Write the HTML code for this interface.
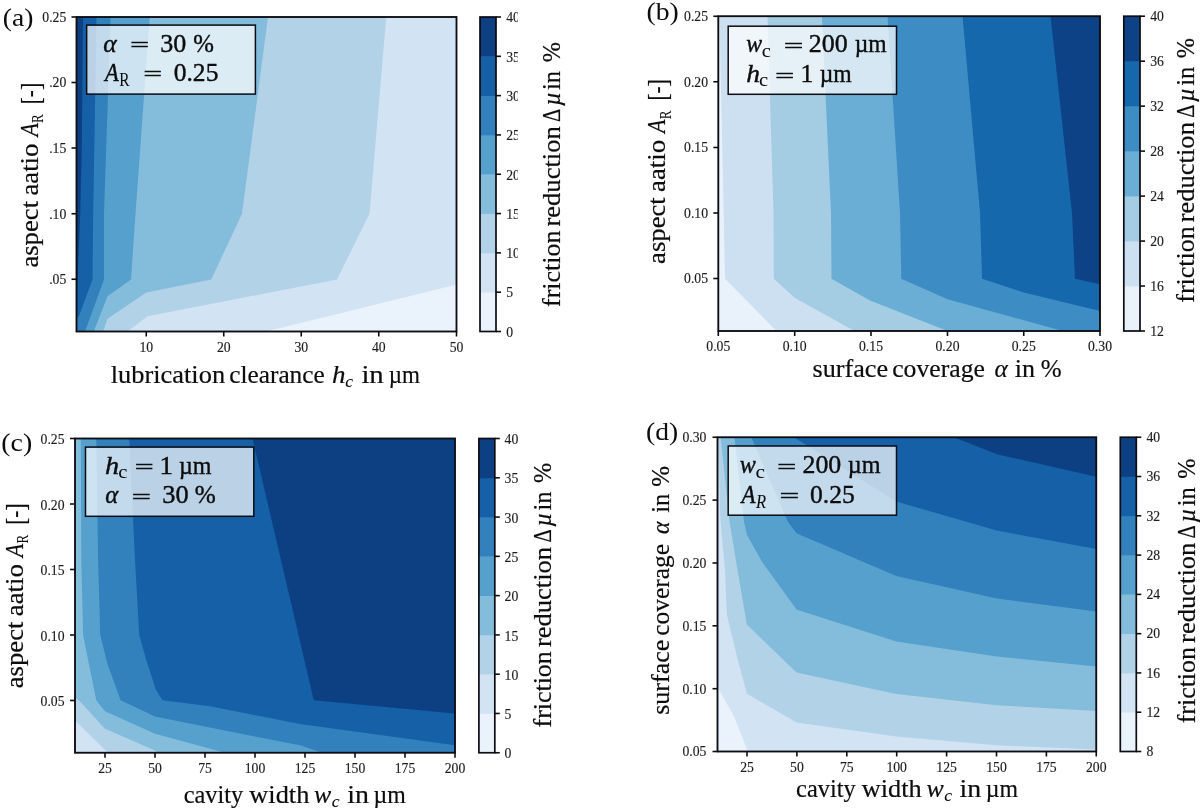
<!DOCTYPE html>
<html lang="en">
<head>
<meta charset="utf-8">
<title>Friction reduction contour maps</title>
<style>
html,body{margin:0;padding:0;background:#ffffff;}
body{width:1200px;height:812px;overflow:hidden;}
svg{display:block;}
text{font-family:'Liberation Serif',serif;fill:#0c0c0c;}
.tk{font-size:13.7px;fill:#1c1c1c;stroke:#1c1c1c;stroke-width:0.15px;}
</style>
</head>
<body>
<svg width="1200" height="812" viewBox="0 0 1200 812">
<defs><filter id="soft" x="0" y="0" width="1200" height="812" filterUnits="userSpaceOnUse"><feGaussianBlur stdDeviation="0.55"/></filter></defs>
<g filter="url(#soft)">
<rect x="-10" y="-10" width="1220" height="832" fill="#ffffff"/>
<g id="panel-a">
<clipPath id="clip-a"><rect x="76.5" y="17" width="380.0" height="314.5"/></clipPath>
<g clip-path="url(#clip-a)">
<rect x="76.5" y="17" width="380.0" height="314.5" fill="#eaf3fb"/>
<polygon points="71.50,12.00 461.50,12.00 461.50,283.50 266.00,331.50 266.00,336.50 71.50,336.50" fill="#d2e3f3"/>
<polygon points="71.50,12.00 386.25,12.00 386.25,17.00 369.50,213.75 337.00,279.40 147.50,316.25 127.50,331.50 127.50,336.50 71.50,336.50" fill="#b2d2e8"/>
<polygon points="71.50,12.00 268.00,12.00 268.00,17.00 242.00,213.75 211.25,279.40 146.25,292.50 107.50,318.75 103.00,331.50 103.00,336.50 71.50,336.50" fill="#84bcdb"/>
<polygon points="71.50,12.00 149.75,12.00 149.75,17.00 135.50,213.75 131.00,279.40 107.50,296.25 93.75,331.50 93.75,336.50 71.50,336.50" fill="#56a0ce"/>
<polygon points="71.50,12.00 110.60,12.00 110.60,17.00 104.00,213.75 104.00,279.40 85.00,331.50 85.00,336.50 71.50,336.50" fill="#3181bd"/>
<polygon points="71.50,12.00 96.50,12.00 96.50,17.00 93.20,213.75 92.50,279.40 79.40,315.00 76.50,319.00 71.50,319.00" fill="#1460a8"/>
<polygon points="71.50,12.00 83.10,12.00 83.10,17.00 81.80,150.00 80.20,213.75 77.60,279.40 76.50,290.00 71.50,290.00" fill="#084082"/>
</g>
<rect x="86.65" y="25.1" width="168.75" height="69.00" fill="#ffffff" fill-opacity="0.71" stroke="#0a0a12" stroke-width="1.5"/><text x="103.34" y="51.60" font-size="26" textLength="13.44" lengthAdjust="spacingAndGlyphs" font-style="italic" stroke="#0c0c0c" stroke-width="0.4">α</text><text x="130.25" y="51.40" font-size="18.5" textLength="18.66" lengthAdjust="spacingAndGlyphs" stroke="#0c0c0c" stroke-width="0.55">=</text><text x="160.25" y="51.60" font-size="26" textLength="26.04" lengthAdjust="spacingAndGlyphs" stroke="#0c0c0c" stroke-width="0.4">30</text><text x="193.15" y="51.60" font-size="26" textLength="20.70" lengthAdjust="spacingAndGlyphs" stroke="#0c0c0c" stroke-width="0.4">%</text><text x="104.98" y="80.50" font-size="26" textLength="13.74" lengthAdjust="spacingAndGlyphs" font-style="italic" stroke="#0c0c0c" stroke-width="0.4">A</text><text x="119.16" y="86.00" font-size="18.5" textLength="10.27" lengthAdjust="spacingAndGlyphs" stroke="#0c0c0c" stroke-width="0.05">R</text><text x="143.57" y="80.30" font-size="18.5" textLength="18.42" lengthAdjust="spacingAndGlyphs" stroke="#0c0c0c" stroke-width="0.55">=</text><text x="173.73" y="80.50" font-size="26" textLength="44.67" lengthAdjust="spacingAndGlyphs" stroke="#0c0c0c" stroke-width="0.4">0.25</text>
<rect x="76.5" y="17" width="380.0" height="314.5" fill="none" stroke="#0a0a12" stroke-width="1.85"/>
<line x1="146.25" y1="331.5" x2="146.25" y2="336.5" stroke="#111" stroke-width="1.6"/>
<text x="146.25" y="352.10" class="tk" text-anchor="middle">10</text>
<line x1="223.75" y1="331.5" x2="223.75" y2="336.5" stroke="#111" stroke-width="1.6"/>
<text x="223.75" y="352.10" class="tk" text-anchor="middle">20</text>
<line x1="301.25" y1="331.5" x2="301.25" y2="336.5" stroke="#111" stroke-width="1.6"/>
<text x="301.25" y="352.10" class="tk" text-anchor="middle">30</text>
<line x1="378.75" y1="331.5" x2="378.75" y2="336.5" stroke="#111" stroke-width="1.6"/>
<text x="378.75" y="352.10" class="tk" text-anchor="middle">40</text>
<line x1="456.5" y1="331.5" x2="456.5" y2="336.5" stroke="#111" stroke-width="1.6"/>
<text x="456.5" y="352.10" class="tk" text-anchor="middle">50</text>
<line x1="71.5" y1="17" x2="76.5" y2="17" stroke="#111" stroke-width="1.6"/>
<text x="66.30" y="21.90" class="tk" text-anchor="end">0.25</text>
<line x1="71.5" y1="82.5" x2="76.5" y2="82.5" stroke="#111" stroke-width="1.6"/>
<text x="66.30" y="87.40" class="tk" text-anchor="end">.20</text>
<line x1="71.5" y1="148" x2="76.5" y2="148" stroke="#111" stroke-width="1.6"/>
<text x="66.30" y="152.90" class="tk" text-anchor="end">.15</text>
<line x1="71.5" y1="213.75" x2="76.5" y2="213.75" stroke="#111" stroke-width="1.6"/>
<text x="66.30" y="218.65" class="tk" text-anchor="end">.10</text>
<line x1="71.5" y1="279.25" x2="76.5" y2="279.25" stroke="#111" stroke-width="1.6"/>
<text x="66.30" y="284.15" class="tk" text-anchor="end">.05</text>
<rect x="480" y="292.19" width="16" height="39.71" fill="#eaf3fb"/>
<rect x="480" y="252.88" width="16" height="39.71" fill="#d2e3f3"/>
<rect x="480" y="213.56" width="16" height="39.71" fill="#b2d2e8"/>
<rect x="480" y="174.25" width="16" height="39.71" fill="#84bcdb"/>
<rect x="480" y="134.94" width="16" height="39.71" fill="#56a0ce"/>
<rect x="480" y="95.62" width="16" height="39.71" fill="#3181bd"/>
<rect x="480" y="56.31" width="16" height="39.71" fill="#1460a8"/>
<rect x="480" y="17.00" width="16" height="39.71" fill="#084082"/>
<rect x="480" y="17" width="16" height="314.5" fill="none" stroke="#0a0a12" stroke-width="1.7"/>
<line x1="496" y1="331.50" x2="501" y2="331.50" stroke="#111" stroke-width="1.6"/>
<text x="506.20" y="336.80" class="tk">0</text>
<line x1="496" y1="292.19" x2="501" y2="292.19" stroke="#111" stroke-width="1.6"/>
<text x="506.20" y="297.49" class="tk">5</text>
<line x1="496" y1="252.88" x2="501" y2="252.88" stroke="#111" stroke-width="1.6"/>
<text x="506.20" y="258.18" class="tk">10</text>
<line x1="496" y1="213.56" x2="501" y2="213.56" stroke="#111" stroke-width="1.6"/>
<text x="506.20" y="218.86" class="tk">15</text>
<line x1="496" y1="174.25" x2="501" y2="174.25" stroke="#111" stroke-width="1.6"/>
<text x="506.20" y="179.55" class="tk">20</text>
<line x1="496" y1="134.94" x2="501" y2="134.94" stroke="#111" stroke-width="1.6"/>
<text x="506.20" y="140.24" class="tk">25</text>
<line x1="496" y1="95.62" x2="501" y2="95.62" stroke="#111" stroke-width="1.6"/>
<text x="506.20" y="100.92" class="tk">30</text>
<line x1="496" y1="56.31" x2="501" y2="56.31" stroke="#111" stroke-width="1.6"/>
<text x="506.20" y="61.61" class="tk">35</text>
<line x1="496" y1="17.00" x2="501" y2="17.00" stroke="#111" stroke-width="1.6"/>
<text x="506.20" y="22.30" class="tk">40</text>
</g>
<rect x="517.8" y="5" width="14" height="340" fill="#ffffff"/>
<g id="panel-b">
<clipPath id="clip-b"><rect x="718.3" y="16.2" width="381.70000000000005" height="314.8"/></clipPath>
<g clip-path="url(#clip-b)">
<rect x="718.3" y="16.2" width="381.70000000000005" height="314.8" fill="#e9f2fa"/>
<polygon points="719.50,11.20 1105.00,11.20 1105.00,336.00 776.50,336.00 776.50,331.00 725.00,278.75 719.50,16.20" fill="#cde0f1"/>
<polygon points="767.50,11.20 1105.00,11.20 1105.00,336.00 854.50,336.00 854.50,331.00 795.00,298.00 773.75,278.75 773.50,213.00 767.50,16.20" fill="#a4cce3"/>
<polygon points="821.90,11.20 1105.00,11.20 1105.00,336.00 947.50,336.00 947.50,331.00 870.00,300.50 831.50,278.75 831.00,213.00 821.90,16.20" fill="#6aaed6"/>
<polygon points="887.50,11.20 1105.00,11.20 1105.00,336.00 1062.50,336.00 1062.50,331.00 947.50,299.25 901.25,278.75 900.00,213.00 887.50,16.20" fill="#3d8dc4"/>
<polygon points="962.50,11.20 1105.00,11.20 1105.00,311.00 1100.00,311.00 1023.75,292.50 982.00,278.75 980.00,213.00 962.50,16.20" fill="#1967ad"/>
<polygon points="1050.50,11.20 1105.00,11.20 1105.00,284.25 1100.00,284.25 1075.00,278.75 1072.00,213.00 1050.50,16.20" fill="#084387"/>
</g>
<rect x="728.2" y="26.2" width="168.30" height="68.10" fill="#ffffff" fill-opacity="0.71" stroke="#0a0a12" stroke-width="1.5"/><text x="746.33" y="52.40" font-size="26" textLength="15.84" lengthAdjust="spacingAndGlyphs" font-style="italic" stroke="#0c0c0c" stroke-width="0.4">w</text><text x="761.82" y="56.70" font-size="18.5" textLength="9.11" lengthAdjust="spacingAndGlyphs" stroke="#0c0c0c" stroke-width="0.05">c</text><text x="784.01" y="52.20" font-size="18.5" textLength="19.15" lengthAdjust="spacingAndGlyphs" stroke="#0c0c0c" stroke-width="0.55">=</text><text x="808.76" y="52.40" font-size="26" textLength="38.93" lengthAdjust="spacingAndGlyphs" stroke="#0c0c0c" stroke-width="0.4">200</text><text x="854.64" y="52.40" font-size="26" textLength="31.93" lengthAdjust="spacingAndGlyphs" stroke="#0c0c0c" stroke-width="0.4">µm</text><text x="746.21" y="82.10" font-size="26" textLength="13.73" lengthAdjust="spacingAndGlyphs" font-style="italic" stroke="#0c0c0c" stroke-width="0.4">h</text><text x="759.02" y="86.40" font-size="18.5" textLength="9.11" lengthAdjust="spacingAndGlyphs" stroke="#0c0c0c" stroke-width="0.05">c</text><text x="775.34" y="81.90" font-size="18.5" textLength="18.79" lengthAdjust="spacingAndGlyphs" stroke="#0c0c0c" stroke-width="0.55">=</text><text x="800.55" y="82.10" font-size="26" textLength="12.78" lengthAdjust="spacingAndGlyphs" stroke="#0c0c0c" stroke-width="0.4">1</text><text x="819.74" y="82.10" font-size="26" textLength="32.03" lengthAdjust="spacingAndGlyphs" stroke="#0c0c0c" stroke-width="0.4">µm</text>
<rect x="718.3" y="16.2" width="381.70000000000005" height="314.8" fill="none" stroke="#0a0a12" stroke-width="1.85"/>
<line x1="718.3" y1="331" x2="718.3" y2="336" stroke="#111" stroke-width="1.6"/>
<text x="718.3" y="350.90" class="tk" text-anchor="middle">0.05</text>
<line x1="794.7" y1="331" x2="794.7" y2="336" stroke="#111" stroke-width="1.6"/>
<text x="794.7" y="350.90" class="tk" text-anchor="middle">0.10</text>
<line x1="871" y1="331" x2="871" y2="336" stroke="#111" stroke-width="1.6"/>
<text x="871" y="350.90" class="tk" text-anchor="middle">0.15</text>
<line x1="947.5" y1="331" x2="947.5" y2="336" stroke="#111" stroke-width="1.6"/>
<text x="947.5" y="350.90" class="tk" text-anchor="middle">0.20</text>
<line x1="1023.75" y1="331" x2="1023.75" y2="336" stroke="#111" stroke-width="1.6"/>
<text x="1023.75" y="350.90" class="tk" text-anchor="middle">0.25</text>
<line x1="1100" y1="331" x2="1100" y2="336" stroke="#111" stroke-width="1.6"/>
<text x="1100" y="350.90" class="tk" text-anchor="middle">0.30</text>
<line x1="713.3" y1="16.25" x2="718.3" y2="16.25" stroke="#111" stroke-width="1.6"/>
<text x="708.00" y="21.15" class="tk" text-anchor="end">0.25</text>
<line x1="713.3" y1="81.75" x2="718.3" y2="81.75" stroke="#111" stroke-width="1.6"/>
<text x="708.00" y="86.65" class="tk" text-anchor="end">0.20</text>
<line x1="713.3" y1="147.5" x2="718.3" y2="147.5" stroke="#111" stroke-width="1.6"/>
<text x="708.00" y="152.40" class="tk" text-anchor="end">0.15</text>
<line x1="713.3" y1="213" x2="718.3" y2="213" stroke="#111" stroke-width="1.6"/>
<text x="708.00" y="217.90" class="tk" text-anchor="end">0.10</text>
<line x1="713.3" y1="278.5" x2="718.3" y2="278.5" stroke="#111" stroke-width="1.6"/>
<text x="708.00" y="283.40" class="tk" text-anchor="end">0.05</text>
<rect x="1123.8" y="286.03" width="16.200000000000045" height="45.37" fill="#e9f2fa"/>
<rect x="1123.8" y="241.06" width="16.200000000000045" height="45.37" fill="#cde0f1"/>
<rect x="1123.8" y="196.09" width="16.200000000000045" height="45.37" fill="#a4cce3"/>
<rect x="1123.8" y="151.11" width="16.200000000000045" height="45.37" fill="#6aaed6"/>
<rect x="1123.8" y="106.14" width="16.200000000000045" height="45.37" fill="#3d8dc4"/>
<rect x="1123.8" y="61.17" width="16.200000000000045" height="45.37" fill="#1967ad"/>
<rect x="1123.8" y="16.20" width="16.200000000000045" height="45.37" fill="#084387"/>
<rect x="1123.8" y="16.2" width="16.200000000000045" height="314.8" fill="none" stroke="#0a0a12" stroke-width="1.7"/>
<line x1="1140" y1="331.00" x2="1145" y2="331.00" stroke="#111" stroke-width="1.6"/>
<text x="1150.20" y="336.00" class="tk">12</text>
<line x1="1140" y1="286.03" x2="1145" y2="286.03" stroke="#111" stroke-width="1.6"/>
<text x="1150.20" y="291.03" class="tk">16</text>
<line x1="1140" y1="241.06" x2="1145" y2="241.06" stroke="#111" stroke-width="1.6"/>
<text x="1150.20" y="246.06" class="tk">20</text>
<line x1="1140" y1="196.09" x2="1145" y2="196.09" stroke="#111" stroke-width="1.6"/>
<text x="1150.20" y="201.09" class="tk">24</text>
<line x1="1140" y1="151.11" x2="1145" y2="151.11" stroke="#111" stroke-width="1.6"/>
<text x="1150.20" y="156.11" class="tk">28</text>
<line x1="1140" y1="106.14" x2="1145" y2="106.14" stroke="#111" stroke-width="1.6"/>
<text x="1150.20" y="111.14" class="tk">32</text>
<line x1="1140" y1="61.17" x2="1145" y2="61.17" stroke="#111" stroke-width="1.6"/>
<text x="1150.20" y="66.17" class="tk">36</text>
<line x1="1140" y1="16.20" x2="1145" y2="16.20" stroke="#111" stroke-width="1.6"/>
<text x="1150.20" y="21.20" class="tk">40</text>
</g>
<g id="panel-c">
<clipPath id="clip-c"><rect x="75" y="438.5" width="380" height="314.25"/></clipPath>
<g clip-path="url(#clip-c)">
<rect x="75" y="438.5" width="380" height="314.25" fill="#d2e3f3"/>
<polygon points="70.00,433.50 460.00,433.50 460.00,757.75 108.00,757.75 108.00,752.75 75.00,720.50 70.00,720.50" fill="#b2d2e8"/>
<polygon points="70.00,433.50 460.00,433.50 460.00,757.75 158.00,757.75 158.00,752.75 155.00,750.60 105.00,728.75 80.00,701.50 75.00,697.00 70.00,697.00" fill="#84bcdb"/>
<polygon points="80.80,433.50 460.00,433.50 460.00,757.75 225.00,757.75 225.00,752.75 155.00,733.75 105.00,711.25 96.25,700.25 88.10,660.00 83.10,635.00 81.30,560.00 80.80,438.50" fill="#56a0ce"/>
<polygon points="96.25,433.50 460.00,433.50 460.00,757.75 322.50,757.75 322.50,752.75 300.00,745.25 255.00,736.50 205.00,726.50 155.00,716.50 120.60,700.25 107.50,664.00 100.25,635.00 98.10,560.00 96.25,438.50" fill="#3181bd"/>
<polygon points="129.20,433.50 460.00,433.50 460.00,745.25 455.00,745.25 300.00,724.00 210.00,706.25 162.50,700.25 156.00,690.00 146.25,660.00 139.25,635.00 135.00,560.00 129.20,438.50" fill="#1460a8"/>
<polygon points="252.50,433.50 460.00,433.50 460.00,713.50 455.00,713.50 313.75,700.25 298.50,634.75 252.50,438.50" fill="#084082"/>
</g>
<rect x="85.5" y="447.1" width="168.30" height="69.20" fill="#ffffff" fill-opacity="0.71" stroke="#0a0a12" stroke-width="1.5"/><text x="105.08" y="473.60" font-size="26" textLength="14.09" lengthAdjust="spacingAndGlyphs" font-style="italic" stroke="#0c0c0c" stroke-width="0.4">h</text><text x="118.22" y="477.90" font-size="18.5" textLength="9.11" lengthAdjust="spacingAndGlyphs" stroke="#0c0c0c" stroke-width="0.05">c</text><text x="135.06" y="473.40" font-size="18.5" textLength="18.54" lengthAdjust="spacingAndGlyphs" stroke="#0c0c0c" stroke-width="0.55">=</text><text x="159.63" y="473.60" font-size="26" textLength="13.49" lengthAdjust="spacingAndGlyphs" stroke="#0c0c0c" stroke-width="0.4">1</text><text x="178.93" y="473.60" font-size="26" textLength="32.55" lengthAdjust="spacingAndGlyphs" stroke="#0c0c0c" stroke-width="0.4">µm</text><text x="105.36" y="503.00" font-size="26" textLength="13.03" lengthAdjust="spacingAndGlyphs" font-style="italic" stroke="#0c0c0c" stroke-width="0.4">α</text><text x="132.14" y="502.80" font-size="18.5" textLength="18.79" lengthAdjust="spacingAndGlyphs" stroke="#0c0c0c" stroke-width="0.55">=</text><text x="162.34" y="503.00" font-size="26" textLength="26.37" lengthAdjust="spacingAndGlyphs" stroke="#0c0c0c" stroke-width="0.4">30</text><text x="194.74" y="503.00" font-size="26" textLength="21.03" lengthAdjust="spacingAndGlyphs" stroke="#0c0c0c" stroke-width="0.4">%</text>
<rect x="75" y="438.5" width="380" height="314.25" fill="none" stroke="#0a0a12" stroke-width="1.85"/>
<line x1="105" y1="752.75" x2="105" y2="757.75" stroke="#111" stroke-width="1.6"/>
<text x="105" y="773.35" class="tk" text-anchor="middle">25</text>
<line x1="155" y1="752.75" x2="155" y2="757.75" stroke="#111" stroke-width="1.6"/>
<text x="155" y="773.35" class="tk" text-anchor="middle">50</text>
<line x1="205" y1="752.75" x2="205" y2="757.75" stroke="#111" stroke-width="1.6"/>
<text x="205" y="773.35" class="tk" text-anchor="middle">75</text>
<line x1="255" y1="752.75" x2="255" y2="757.75" stroke="#111" stroke-width="1.6"/>
<text x="255" y="773.35" class="tk" text-anchor="middle">100</text>
<line x1="305" y1="752.75" x2="305" y2="757.75" stroke="#111" stroke-width="1.6"/>
<text x="305" y="773.35" class="tk" text-anchor="middle">125</text>
<line x1="355" y1="752.75" x2="355" y2="757.75" stroke="#111" stroke-width="1.6"/>
<text x="355" y="773.35" class="tk" text-anchor="middle">150</text>
<line x1="405" y1="752.75" x2="405" y2="757.75" stroke="#111" stroke-width="1.6"/>
<text x="405" y="773.35" class="tk" text-anchor="middle">175</text>
<line x1="455" y1="752.75" x2="455" y2="757.75" stroke="#111" stroke-width="1.6"/>
<text x="455" y="773.35" class="tk" text-anchor="middle">200</text>
<line x1="70" y1="438.5" x2="75" y2="438.5" stroke="#111" stroke-width="1.6"/>
<text x="64.50" y="444.00" class="tk" text-anchor="end">0.25</text>
<line x1="70" y1="504" x2="75" y2="504" stroke="#111" stroke-width="1.6"/>
<text x="64.50" y="509.50" class="tk" text-anchor="end">0.20</text>
<line x1="70" y1="569.5" x2="75" y2="569.5" stroke="#111" stroke-width="1.6"/>
<text x="64.50" y="575.00" class="tk" text-anchor="end">0.15</text>
<line x1="70" y1="635" x2="75" y2="635" stroke="#111" stroke-width="1.6"/>
<text x="64.50" y="640.50" class="tk" text-anchor="end">0.10</text>
<line x1="70" y1="700.5" x2="75" y2="700.5" stroke="#111" stroke-width="1.6"/>
<text x="64.50" y="706.00" class="tk" text-anchor="end">0.05</text>
<rect x="478.9" y="713.47" width="15.900000000000034" height="39.68" fill="#eaf3fb"/>
<rect x="478.9" y="674.19" width="15.900000000000034" height="39.68" fill="#d2e3f3"/>
<rect x="478.9" y="634.91" width="15.900000000000034" height="39.68" fill="#b2d2e8"/>
<rect x="478.9" y="595.62" width="15.900000000000034" height="39.68" fill="#84bcdb"/>
<rect x="478.9" y="556.34" width="15.900000000000034" height="39.68" fill="#56a0ce"/>
<rect x="478.9" y="517.06" width="15.900000000000034" height="39.68" fill="#3181bd"/>
<rect x="478.9" y="477.78" width="15.900000000000034" height="39.68" fill="#1460a8"/>
<rect x="478.9" y="438.50" width="15.900000000000034" height="39.68" fill="#084082"/>
<rect x="478.9" y="438.5" width="15.900000000000034" height="314.25" fill="none" stroke="#0a0a12" stroke-width="1.7"/>
<line x1="494.8" y1="752.75" x2="499.8" y2="752.75" stroke="#111" stroke-width="1.6"/>
<text x="504.60" y="758.35" class="tk">0</text>
<line x1="494.8" y1="713.47" x2="499.8" y2="713.47" stroke="#111" stroke-width="1.6"/>
<text x="504.60" y="719.07" class="tk">5</text>
<line x1="494.8" y1="674.19" x2="499.8" y2="674.19" stroke="#111" stroke-width="1.6"/>
<text x="504.60" y="679.79" class="tk">10</text>
<line x1="494.8" y1="634.91" x2="499.8" y2="634.91" stroke="#111" stroke-width="1.6"/>
<text x="504.60" y="640.51" class="tk">15</text>
<line x1="494.8" y1="595.62" x2="499.8" y2="595.62" stroke="#111" stroke-width="1.6"/>
<text x="504.60" y="601.23" class="tk">20</text>
<line x1="494.8" y1="556.34" x2="499.8" y2="556.34" stroke="#111" stroke-width="1.6"/>
<text x="504.60" y="561.94" class="tk">25</text>
<line x1="494.8" y1="517.06" x2="499.8" y2="517.06" stroke="#111" stroke-width="1.6"/>
<text x="504.60" y="522.66" class="tk">30</text>
<line x1="494.8" y1="477.78" x2="499.8" y2="477.78" stroke="#111" stroke-width="1.6"/>
<text x="504.60" y="483.38" class="tk">35</text>
<line x1="494.8" y1="438.50" x2="499.8" y2="438.50" stroke="#111" stroke-width="1.6"/>
<text x="504.60" y="444.10" class="tk">40</text>
</g>
<g id="panel-d">
<clipPath id="clip-d"><rect x="717.5" y="437.25" width="378.75" height="314.25"/></clipPath>
<g clip-path="url(#clip-d)">
<rect x="717.5" y="437.25" width="378.75" height="314.25" fill="#eaf3fb"/>
<polygon points="712.50,432.25 1101.25,432.25 1101.25,756.50 748.00,756.50 748.00,751.50 733.75,716.00 717.50,687.00 712.50,687.00" fill="#d2e3f3"/>
<polygon points="718.30,432.25 1101.25,432.25 1101.25,749.50 1096.25,749.50 996.75,745.25 896.25,736.50 796.50,722.60 746.90,693.75 737.50,658.75 726.90,615.00 725.00,570.00 720.40,520.00 718.30,437.25" fill="#b2d2e8"/>
<polygon points="720.60,432.25 1101.25,432.25 1101.25,711.00 1096.25,711.00 996.75,705.25 896.25,694.00 796.50,672.60 746.90,624.40 737.50,570.00 729.60,522.00 720.60,437.25" fill="#84bcdb"/>
<polygon points="734.40,432.25 1101.25,432.25 1101.25,666.50 1096.25,666.50 996.75,656.50 896.25,641.50 796.50,609.40 762.50,562.50 747.00,535.00 744.00,522.00 734.40,437.25" fill="#56a0ce"/>
<polygon points="751.25,432.25 1101.25,432.25 1101.25,611.50 1096.25,611.50 996.75,598.50 896.25,576.00 796.50,533.20 788.00,522.00 751.25,437.25" fill="#3181bd"/>
<polygon points="793.75,432.25 1101.25,432.25 1101.25,549.00 1096.25,549.00 996.75,530.50 896.25,501.50 793.75,437.25" fill="#1460a8"/>
<polygon points="953.75,432.25 1101.25,432.25 1101.25,476.75 1096.25,476.75 998.00,454.50 953.75,437.25" fill="#084082"/>
</g>
<rect x="728.2" y="446" width="168.30" height="69.20" fill="#ffffff" fill-opacity="0.71" stroke="#0a0a12" stroke-width="1.5"/><text x="739.72" y="473.20" font-size="26" textLength="16.05" lengthAdjust="spacingAndGlyphs" font-style="italic" stroke="#0c0c0c" stroke-width="0.4">w</text><text x="755.49" y="477.50" font-size="18.5" textLength="9.47" lengthAdjust="spacingAndGlyphs" stroke="#0c0c0c" stroke-width="0.05">c</text><text x="777.24" y="473.00" font-size="18.5" textLength="18.79" lengthAdjust="spacingAndGlyphs" stroke="#0c0c0c" stroke-width="0.55">=</text><text x="802.46" y="473.20" font-size="26" textLength="38.82" lengthAdjust="spacingAndGlyphs" stroke="#0c0c0c" stroke-width="0.4">200</text><text x="847.82" y="473.20" font-size="26" textLength="32.76" lengthAdjust="spacingAndGlyphs" stroke="#0c0c0c" stroke-width="0.4">µm</text><text x="741.55" y="502.50" font-size="26" textLength="13.97" lengthAdjust="spacingAndGlyphs" font-style="italic" stroke="#0c0c0c" stroke-width="0.4">A</text><text x="756.09" y="508.00" font-size="18.5" textLength="10.09" lengthAdjust="spacingAndGlyphs" font-style="italic" stroke="#0c0c0c" stroke-width="0.05">R</text><text x="779.70" y="502.30" font-size="18.5" textLength="19.27" lengthAdjust="spacingAndGlyphs" stroke="#0c0c0c" stroke-width="0.55">=</text><text x="810.03" y="502.50" font-size="26" textLength="44.77" lengthAdjust="spacingAndGlyphs" stroke="#0c0c0c" stroke-width="0.4">0.25</text>
<rect x="717.5" y="437.25" width="378.75" height="314.25" fill="none" stroke="#0a0a12" stroke-width="1.85"/>
<line x1="747" y1="751.5" x2="747" y2="756.5" stroke="#111" stroke-width="1.6"/>
<text x="747" y="772.10" class="tk" text-anchor="middle">25</text>
<line x1="796.9" y1="751.5" x2="796.9" y2="756.5" stroke="#111" stroke-width="1.6"/>
<text x="796.9" y="772.10" class="tk" text-anchor="middle">50</text>
<line x1="846.8" y1="751.5" x2="846.8" y2="756.5" stroke="#111" stroke-width="1.6"/>
<text x="846.8" y="772.10" class="tk" text-anchor="middle">75</text>
<line x1="896.7" y1="751.5" x2="896.7" y2="756.5" stroke="#111" stroke-width="1.6"/>
<text x="896.7" y="772.10" class="tk" text-anchor="middle">100</text>
<line x1="946.6" y1="751.5" x2="946.6" y2="756.5" stroke="#111" stroke-width="1.6"/>
<text x="946.6" y="772.10" class="tk" text-anchor="middle">125</text>
<line x1="996.5" y1="751.5" x2="996.5" y2="756.5" stroke="#111" stroke-width="1.6"/>
<text x="996.5" y="772.10" class="tk" text-anchor="middle">150</text>
<line x1="1046.4" y1="751.5" x2="1046.4" y2="756.5" stroke="#111" stroke-width="1.6"/>
<text x="1046.4" y="772.10" class="tk" text-anchor="middle">175</text>
<line x1="1096.25" y1="751.5" x2="1096.25" y2="756.5" stroke="#111" stroke-width="1.6"/>
<text x="1096.25" y="772.10" class="tk" text-anchor="middle">200</text>
<line x1="712.5" y1="437.25" x2="717.5" y2="437.25" stroke="#111" stroke-width="1.6"/>
<text x="706.40" y="442.15" class="tk" text-anchor="end">0.30</text>
<line x1="712.5" y1="500.1" x2="717.5" y2="500.1" stroke="#111" stroke-width="1.6"/>
<text x="706.40" y="505.00" class="tk" text-anchor="end">0.25</text>
<line x1="712.5" y1="563" x2="717.5" y2="563" stroke="#111" stroke-width="1.6"/>
<text x="706.40" y="567.90" class="tk" text-anchor="end">0.20</text>
<line x1="712.5" y1="625.8" x2="717.5" y2="625.8" stroke="#111" stroke-width="1.6"/>
<text x="706.40" y="630.70" class="tk" text-anchor="end">0.15</text>
<line x1="712.5" y1="688.7" x2="717.5" y2="688.7" stroke="#111" stroke-width="1.6"/>
<text x="706.40" y="693.60" class="tk" text-anchor="end">0.10</text>
<line x1="712.5" y1="751.5" x2="717.5" y2="751.5" stroke="#111" stroke-width="1.6"/>
<text x="706.40" y="756.40" class="tk" text-anchor="end">0.05</text>
<rect x="1120.3" y="712.22" width="16.0" height="39.68" fill="#eaf3fb"/>
<rect x="1120.3" y="672.94" width="16.0" height="39.68" fill="#d2e3f3"/>
<rect x="1120.3" y="633.66" width="16.0" height="39.68" fill="#b2d2e8"/>
<rect x="1120.3" y="594.38" width="16.0" height="39.68" fill="#84bcdb"/>
<rect x="1120.3" y="555.09" width="16.0" height="39.68" fill="#56a0ce"/>
<rect x="1120.3" y="515.81" width="16.0" height="39.68" fill="#3181bd"/>
<rect x="1120.3" y="476.53" width="16.0" height="39.68" fill="#1460a8"/>
<rect x="1120.3" y="437.25" width="16.0" height="39.68" fill="#084082"/>
<rect x="1120.3" y="437.25" width="16.0" height="314.25" fill="none" stroke="#0a0a12" stroke-width="1.7"/>
<line x1="1136.3" y1="751.50" x2="1141.3" y2="751.50" stroke="#111" stroke-width="1.6"/>
<text x="1146.50" y="756.30" class="tk">8</text>
<line x1="1136.3" y1="712.22" x2="1141.3" y2="712.22" stroke="#111" stroke-width="1.6"/>
<text x="1146.50" y="717.02" class="tk">12</text>
<line x1="1136.3" y1="672.94" x2="1141.3" y2="672.94" stroke="#111" stroke-width="1.6"/>
<text x="1146.50" y="677.74" class="tk">16</text>
<line x1="1136.3" y1="633.66" x2="1141.3" y2="633.66" stroke="#111" stroke-width="1.6"/>
<text x="1146.50" y="638.46" class="tk">20</text>
<line x1="1136.3" y1="594.38" x2="1141.3" y2="594.38" stroke="#111" stroke-width="1.6"/>
<text x="1146.50" y="599.17" class="tk">24</text>
<line x1="1136.3" y1="555.09" x2="1141.3" y2="555.09" stroke="#111" stroke-width="1.6"/>
<text x="1146.50" y="559.89" class="tk">28</text>
<line x1="1136.3" y1="515.81" x2="1141.3" y2="515.81" stroke="#111" stroke-width="1.6"/>
<text x="1146.50" y="520.61" class="tk">32</text>
<line x1="1136.3" y1="476.53" x2="1141.3" y2="476.53" stroke="#111" stroke-width="1.6"/>
<text x="1146.50" y="481.33" class="tk">36</text>
<line x1="1136.3" y1="437.25" x2="1141.3" y2="437.25" stroke="#111" stroke-width="1.6"/>
<text x="1146.50" y="442.05" class="tk">40</text>
</g>
<text x="2.79" y="26.40" font-size="25.5" textLength="30.63" lengthAdjust="spacingAndGlyphs">(a)</text>
<text x="646.49" y="19.70" font-size="25.5" textLength="32.23" lengthAdjust="spacingAndGlyphs">(b)</text>
<text x="1.27" y="451.20" font-size="25.5" textLength="30.95" lengthAdjust="spacingAndGlyphs">(c)</text>
<text x="646.09" y="439.90" font-size="25.5" textLength="32.12" lengthAdjust="spacingAndGlyphs">(d)</text>
<text x="110.77" y="383.20" font-size="26" textLength="114.33" lengthAdjust="spacingAndGlyphs" stroke="#0c0c0c" stroke-width="0.2">lubrication</text><text x="229.34" y="383.20" font-size="26" textLength="95.34" lengthAdjust="spacingAndGlyphs" stroke="#0c0c0c" stroke-width="0.2">clearance</text><text x="331.92" y="383.20" font-size="26" textLength="13.50" lengthAdjust="spacingAndGlyphs" font-style="italic" stroke="#0c0c0c" stroke-width="0.2">h</text><text x="345.36" y="387.20" font-size="17" textLength="7.83" lengthAdjust="spacingAndGlyphs" font-style="italic" stroke="#0c0c0c" stroke-width="0.05">c</text><text x="361.40" y="383.20" font-size="26" textLength="22.34" lengthAdjust="spacingAndGlyphs" stroke="#0c0c0c" stroke-width="0.2">in</text><text x="388.76" y="383.20" font-size="26" textLength="31.20" lengthAdjust="spacingAndGlyphs" stroke="#0c0c0c" stroke-width="0.2">µm</text>
<text x="812.53" y="376.90" font-size="26" textLength="75.58" lengthAdjust="spacingAndGlyphs" stroke="#0c0c0c" stroke-width="0.2">surface</text><text x="892.22" y="376.90" font-size="26" textLength="92.67" lengthAdjust="spacingAndGlyphs" stroke="#0c0c0c" stroke-width="0.2">coverage</text><text x="994.55" y="376.90" font-size="26" textLength="13.23" lengthAdjust="spacingAndGlyphs" font-style="italic" stroke="#0c0c0c" stroke-width="0.2">α</text><text x="1014.75" y="376.90" font-size="26" textLength="20.24" lengthAdjust="spacingAndGlyphs" stroke="#0c0c0c" stroke-width="0.2">in</text><text x="1040.64" y="376.90" font-size="26" textLength="20.92" lengthAdjust="spacingAndGlyphs" stroke="#0c0c0c" stroke-width="0.2">%</text>
<text x="183.67" y="802.80" font-size="26" textLength="59.62" lengthAdjust="spacingAndGlyphs" stroke="#0c0c0c" stroke-width="0.2">cavity</text><text x="249.37" y="802.80" font-size="26" textLength="59.97" lengthAdjust="spacingAndGlyphs" stroke="#0c0c0c" stroke-width="0.2">width</text><text x="313.98" y="802.80" font-size="26" textLength="17.21" lengthAdjust="spacingAndGlyphs" font-style="italic" stroke="#0c0c0c" stroke-width="0.2">w</text><text x="331.86" y="806.80" font-size="17" textLength="7.83" lengthAdjust="spacingAndGlyphs" font-style="italic" stroke="#0c0c0c" stroke-width="0.05">c</text><text x="347.21" y="802.80" font-size="26" textLength="21.71" lengthAdjust="spacingAndGlyphs" stroke="#0c0c0c" stroke-width="0.2">in</text><text x="373.43" y="802.80" font-size="26" textLength="32.24" lengthAdjust="spacingAndGlyphs" stroke="#0c0c0c" stroke-width="0.2">µm</text>
<text x="796.07" y="797.10" font-size="26" textLength="59.62" lengthAdjust="spacingAndGlyphs" stroke="#0c0c0c" stroke-width="0.2">cavity</text><text x="861.77" y="797.10" font-size="26" textLength="59.97" lengthAdjust="spacingAndGlyphs" stroke="#0c0c0c" stroke-width="0.2">width</text><text x="926.38" y="797.10" font-size="26" textLength="17.21" lengthAdjust="spacingAndGlyphs" font-style="italic" stroke="#0c0c0c" stroke-width="0.2">w</text><text x="944.26" y="801.10" font-size="17" textLength="7.83" lengthAdjust="spacingAndGlyphs" font-style="italic" stroke="#0c0c0c" stroke-width="0.05">c</text><text x="959.61" y="797.10" font-size="26" textLength="21.71" lengthAdjust="spacingAndGlyphs" stroke="#0c0c0c" stroke-width="0.2">in</text><text x="985.83" y="797.10" font-size="26" textLength="32.24" lengthAdjust="spacingAndGlyphs" stroke="#0c0c0c" stroke-width="0.2">µm</text>
<g transform="translate(37.60,0) rotate(-90)"><text x="-267.64" y="0.00" font-size="26" textLength="66.69" lengthAdjust="spacingAndGlyphs" stroke="#0c0c0c" stroke-width="0.2">aspect</text><text x="-195.64" y="0.00" font-size="26" textLength="52.06" lengthAdjust="spacingAndGlyphs" stroke="#0c0c0c" stroke-width="0.2">aatio</text><text x="-136.59" y="0.00" font-size="26" textLength="13.51" lengthAdjust="spacingAndGlyphs" font-style="italic" stroke="#0c0c0c" stroke-width="0.2">A</text><text x="-122.98" y="5.60" font-size="16" textLength="8.80" lengthAdjust="spacingAndGlyphs" stroke="#0c0c0c" stroke-width="0.05">R</text><text x="-104.23" y="2.00" font-size="27.5" textLength="6.88" lengthAdjust="spacingAndGlyphs" stroke="#0c0c0c" stroke-width="0.2">[</text><text x="-97.17" y="0.00" font-size="26" textLength="6.92" lengthAdjust="spacingAndGlyphs" stroke="#0c0c0c" stroke-width="0.2">-</text><text x="-90.11" y="2.00" font-size="27.5" textLength="7.48" lengthAdjust="spacingAndGlyphs" stroke="#0c0c0c" stroke-width="0.2">]</text></g>
<g transform="translate(665.20,0) rotate(-90)"><text x="-263.94" y="0.00" font-size="26" textLength="66.69" lengthAdjust="spacingAndGlyphs" stroke="#0c0c0c" stroke-width="0.2">aspect</text><text x="-191.94" y="0.00" font-size="26" textLength="52.06" lengthAdjust="spacingAndGlyphs" stroke="#0c0c0c" stroke-width="0.2">aatio</text><text x="-132.89" y="0.00" font-size="26" textLength="13.51" lengthAdjust="spacingAndGlyphs" font-style="italic" stroke="#0c0c0c" stroke-width="0.2">A</text><text x="-119.28" y="5.60" font-size="16" textLength="8.80" lengthAdjust="spacingAndGlyphs" stroke="#0c0c0c" stroke-width="0.05">R</text><text x="-100.53" y="2.00" font-size="27.5" textLength="6.88" lengthAdjust="spacingAndGlyphs" stroke="#0c0c0c" stroke-width="0.2">[</text><text x="-93.47" y="0.00" font-size="26" textLength="6.92" lengthAdjust="spacingAndGlyphs" stroke="#0c0c0c" stroke-width="0.2">-</text><text x="-86.41" y="2.00" font-size="27.5" textLength="7.48" lengthAdjust="spacingAndGlyphs" stroke="#0c0c0c" stroke-width="0.2">]</text></g>
<g transform="translate(22.50,0) rotate(-90)"><text x="-688.24" y="0.00" font-size="26" textLength="66.69" lengthAdjust="spacingAndGlyphs" stroke="#0c0c0c" stroke-width="0.2">aspect</text><text x="-616.24" y="0.00" font-size="26" textLength="52.06" lengthAdjust="spacingAndGlyphs" stroke="#0c0c0c" stroke-width="0.2">aatio</text><text x="-557.19" y="0.00" font-size="26" textLength="13.51" lengthAdjust="spacingAndGlyphs" font-style="italic" stroke="#0c0c0c" stroke-width="0.2">A</text><text x="-543.58" y="5.60" font-size="16" textLength="8.80" lengthAdjust="spacingAndGlyphs" stroke="#0c0c0c" stroke-width="0.05">R</text><text x="-524.83" y="2.00" font-size="27.5" textLength="6.88" lengthAdjust="spacingAndGlyphs" stroke="#0c0c0c" stroke-width="0.2">[</text><text x="-517.77" y="0.00" font-size="26" textLength="6.92" lengthAdjust="spacingAndGlyphs" stroke="#0c0c0c" stroke-width="0.2">-</text><text x="-510.71" y="2.00" font-size="27.5" textLength="7.48" lengthAdjust="spacingAndGlyphs" stroke="#0c0c0c" stroke-width="0.2">]</text></g>
<g transform="translate(668.90,0) rotate(-90)"><text x="-714.87" y="0.00" font-size="26" textLength="75.27" lengthAdjust="spacingAndGlyphs" stroke="#0c0c0c" stroke-width="0.2">surface</text><text x="-635.87" y="0.00" font-size="26" textLength="91.85" lengthAdjust="spacingAndGlyphs" stroke="#0c0c0c" stroke-width="0.2">coverage</text><text x="-534.10" y="0.00" font-size="26" textLength="12.41" lengthAdjust="spacingAndGlyphs" font-style="italic" stroke="#0c0c0c" stroke-width="0.2">α</text><text x="-512.81" y="0.00" font-size="26" textLength="18.98" lengthAdjust="spacingAndGlyphs" stroke="#0c0c0c" stroke-width="0.2">in</text><text x="-486.65" y="0.00" font-size="26" textLength="20.81" lengthAdjust="spacingAndGlyphs" stroke="#0c0c0c" stroke-width="0.2">%</text></g>
<g transform="translate(560.00,0) rotate(-90)"><text x="-306.90" y="0.00" font-size="26" textLength="76.29" lengthAdjust="spacingAndGlyphs" stroke="#0c0c0c" stroke-width="0.2">friction</text><text x="-226.53" y="0.00" font-size="26" textLength="100.23" lengthAdjust="spacingAndGlyphs" stroke="#0c0c0c" stroke-width="0.2">reduction</text><text x="-121.99" y="0.00" font-size="26" textLength="13.26" lengthAdjust="spacingAndGlyphs" stroke="#0c0c0c" stroke-width="0.2">Δ</text><text x="-106.12" y="0.00" font-size="26" textLength="14.19" lengthAdjust="spacingAndGlyphs" font-style="italic" stroke="#0c0c0c" stroke-width="0.2">µ</text><text x="-89.91" y="0.00" font-size="26" textLength="18.98" lengthAdjust="spacingAndGlyphs" stroke="#0c0c0c" stroke-width="0.2">in</text><text x="-62.33" y="0.00" font-size="26" textLength="20.15" lengthAdjust="spacingAndGlyphs" stroke="#0c0c0c" stroke-width="0.2">%</text></g>
<g transform="translate(1193.80,0) rotate(-90)"><text x="-302.70" y="0.00" font-size="26" textLength="76.29" lengthAdjust="spacingAndGlyphs" stroke="#0c0c0c" stroke-width="0.2">friction</text><text x="-222.33" y="0.00" font-size="26" textLength="100.23" lengthAdjust="spacingAndGlyphs" stroke="#0c0c0c" stroke-width="0.2">reduction</text><text x="-117.79" y="0.00" font-size="26" textLength="13.26" lengthAdjust="spacingAndGlyphs" stroke="#0c0c0c" stroke-width="0.2">Δ</text><text x="-101.92" y="0.00" font-size="26" textLength="14.19" lengthAdjust="spacingAndGlyphs" font-style="italic" stroke="#0c0c0c" stroke-width="0.2">µ</text><text x="-85.71" y="0.00" font-size="26" textLength="18.98" lengthAdjust="spacingAndGlyphs" stroke="#0c0c0c" stroke-width="0.2">in</text><text x="-58.13" y="0.00" font-size="26" textLength="20.15" lengthAdjust="spacingAndGlyphs" stroke="#0c0c0c" stroke-width="0.2">%</text></g>
<g transform="translate(550.70,0) rotate(-90)"><text x="-727.50" y="0.00" font-size="26" textLength="76.29" lengthAdjust="spacingAndGlyphs" stroke="#0c0c0c" stroke-width="0.2">friction</text><text x="-647.13" y="0.00" font-size="26" textLength="100.23" lengthAdjust="spacingAndGlyphs" stroke="#0c0c0c" stroke-width="0.2">reduction</text><text x="-542.59" y="0.00" font-size="26" textLength="13.26" lengthAdjust="spacingAndGlyphs" stroke="#0c0c0c" stroke-width="0.2">Δ</text><text x="-526.72" y="0.00" font-size="26" textLength="14.19" lengthAdjust="spacingAndGlyphs" font-style="italic" stroke="#0c0c0c" stroke-width="0.2">µ</text><text x="-510.51" y="0.00" font-size="26" textLength="18.98" lengthAdjust="spacingAndGlyphs" stroke="#0c0c0c" stroke-width="0.2">in</text><text x="-482.93" y="0.00" font-size="26" textLength="20.15" lengthAdjust="spacingAndGlyphs" stroke="#0c0c0c" stroke-width="0.2">%</text></g>
<g transform="translate(1195.10,0) rotate(-90)"><text x="-723.30" y="0.00" font-size="26" textLength="76.29" lengthAdjust="spacingAndGlyphs" stroke="#0c0c0c" stroke-width="0.2">friction</text><text x="-642.93" y="0.00" font-size="26" textLength="100.23" lengthAdjust="spacingAndGlyphs" stroke="#0c0c0c" stroke-width="0.2">reduction</text><text x="-538.39" y="0.00" font-size="26" textLength="13.26" lengthAdjust="spacingAndGlyphs" stroke="#0c0c0c" stroke-width="0.2">Δ</text><text x="-522.52" y="0.00" font-size="26" textLength="14.19" lengthAdjust="spacingAndGlyphs" font-style="italic" stroke="#0c0c0c" stroke-width="0.2">µ</text><text x="-506.31" y="0.00" font-size="26" textLength="18.98" lengthAdjust="spacingAndGlyphs" stroke="#0c0c0c" stroke-width="0.2">in</text><text x="-478.73" y="0.00" font-size="26" textLength="20.15" lengthAdjust="spacingAndGlyphs" stroke="#0c0c0c" stroke-width="0.2">%</text></g>
</g>
</svg>
</body>
</html>
